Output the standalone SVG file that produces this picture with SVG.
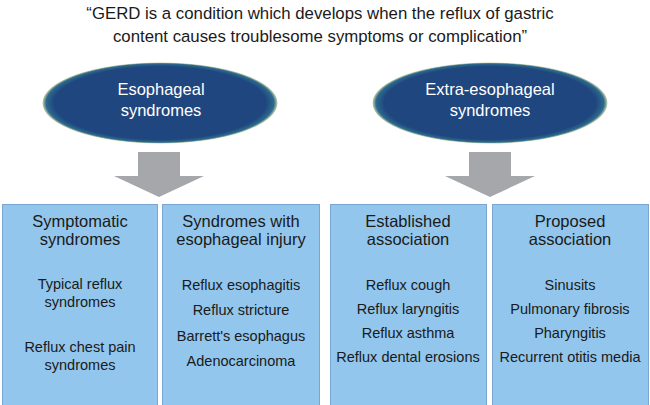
<svg xmlns="http://www.w3.org/2000/svg" width="650" height="405" viewBox="0 0 650 405">
<defs>
<radialGradient id="rim" cx="0.5" cy="0.5" r="0.5">
<stop offset="0.9" stop-color="#1f467e"/>
<stop offset="0.97" stop-color="#2d6a8e"/>
<stop offset="1" stop-color="#c8d4a8"/>
</radialGradient>
<style>
.t{font-family:"Liberation Sans",Arial,sans-serif;text-anchor:middle;fill:#1a1a1a}
.title{font-size:16.8px}
.ell{font-size:16.5px;fill:#ffffff}
.hd{font-size:16.5px}
.it{font-size:14.5px}
.box{fill:#92c6ec;stroke:#7aa6d2;stroke-width:1}
.arr{fill:#a5a7aa}
</style>
</defs>
<rect width="650" height="405" fill="#ffffff"/>
<g id="title">
<text class="t title" x="320" y="19">“GERD is a condition which develops when the reflux of gastric</text>
<text class="t title" x="320" y="42">content causes troublesome symptoms or complication”</text>
</g>
<g id="esophageal">
<ellipse cx="160" cy="103" rx="117.5" ry="40.5" fill="url(#rim)"/>
<text class="t ell" x="161" y="95">Esophageal</text>
<text class="t ell" x="161" y="116">syndromes</text>
</g>
<g id="extra">
<ellipse cx="490" cy="103" rx="117.5" ry="40.5" fill="url(#rim)"/>
<text class="t ell" x="490" y="95">Extra-esophageal</text>
<text class="t ell" x="490" y="116">syndromes</text>
</g>
<g id="connectors">
<polygon class="arr" points="138,152 180,152 180,176 204,176 159,197 114,176 138,176"/>
<polygon class="arr" points="469,152 511,152 511,176 535,176 490,197 445,176 469,176"/>
</g>
<g id="symptomatic">
<rect class="box" x="2.5" y="204.5" width="155" height="205"/>
<text class="t hd" x="80" y="227">Symptomatic</text>
<text class="t hd" x="80" y="245">syndromes</text>
<text class="t it" x="80" y="289">Typical reflux</text>
<text class="t it" x="80" y="307">syndromes</text>
<text class="t it" x="80" y="352">Reflux chest pain</text>
<text class="t it" x="80" y="370">syndromes</text>
</g>
<g id="injury">
<rect class="box" x="162.5" y="204.5" width="157" height="205"/>
<text class="t hd" x="241" y="227">Syndromes with</text>
<text class="t hd" x="241" y="245">esophageal injury</text>
<text class="t it" x="241" y="290">Reflux esophagitis</text>
<text class="t it" x="241" y="315">Reflux stricture</text>
<text class="t it" x="241" y="341">Barrett's esophagus</text>
<text class="t it" x="241" y="366">Adenocarcinoma</text>
</g>
<g id="established">
<rect class="box" x="330.5" y="204.5" width="156" height="205"/>
<text class="t hd" x="408" y="227">Established</text>
<text class="t hd" x="408" y="245">association</text>
<text class="t it" x="408" y="290">Reflux cough</text>
<text class="t it" x="408" y="314">Reflux laryngitis</text>
<text class="t it" x="408" y="338">Reflux asthma</text>
<text class="t it" x="408" y="362">Reflux dental erosions</text>
</g>
<g id="proposed">
<rect class="box" x="492.5" y="204.5" width="156" height="205"/>
<text class="t hd" x="570" y="227">Proposed</text>
<text class="t hd" x="570" y="245">association</text>
<text class="t it" x="570" y="290">Sinusits</text>
<text class="t it" x="570" y="314">Pulmonary fibrosis</text>
<text class="t it" x="570" y="338">Pharyngitis</text>
<text class="t it" x="570" y="362">Recurrent otitis media</text>
</g>
</svg>
